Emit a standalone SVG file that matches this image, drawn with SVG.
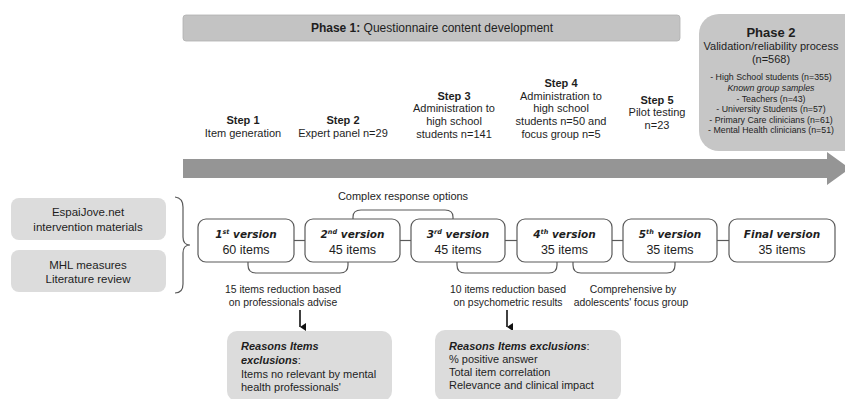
<svg xmlns="http://www.w3.org/2000/svg" width="845" height="399" viewBox="0 0 845 399">
<defs>
<style>
text{font-family:"Liberation Sans",Arial,sans-serif;fill:#1e1e1e}
.c{text-anchor:middle}
.b{font-weight:bold}
.s{font-size:11px}
.m{font-size:11px}
.u{font-size:10.4px}
.v{font-family:"DejaVu Sans",Verdana,sans-serif;font-weight:bold;font-style:italic;font-size:10.5px}
.n{font-size:12.5px}
.sup{font-size:6.5px}
.bi{font-weight:bold;font-style:italic}
.box{fill:#fff;stroke:#5a5a5a;stroke-width:1.2}
.gbox{fill:#dcdcdc;stroke:none}
.ln{fill:none;stroke:#5a5a5a;stroke-width:1.2}
.p2{font-size:8.8px}
</style>
<marker id="ah" markerWidth="8" markerHeight="8" refX="4" refY="7" orient="auto" markerUnits="userSpaceOnUse" viewBox="0 0 8 8">
<path d="M0,1 L8,1 L4,7 Z" fill="#111"/>
</marker>
</defs>
<rect width="845" height="399" fill="#fff"/>

<g id="phase1">
<rect x="183" y="15" width="497" height="26" rx="3" fill="#c3c3c3" stroke="#b0b0b0" stroke-width="0.8"/>
<text class="c" x="432" y="32" font-size="12"><tspan class="b">Phase 1:</tspan> Questionnaire  content development</text>
</g>

<g id="timeline-arrow">
<polygon points="183,159 827,159 827,152 850,168.5 827,185 827,178 183,178" fill="#959595"/>
</g>

<g id="phase2">
<rect x="699" y="14" width="170" height="137" rx="20" fill="#c6c6c6"/>
<text class="c b" x="771" y="37" font-size="13">Phase 2</text>
<text class="c" x="771" y="50" font-size="11">Validation/reliability process</text>
<text class="c" x="771" y="63" font-size="11">(n=568)</text>
<text class="c p2" x="771" y="80">- High School students (n=355)</text>
<text class="c p2" x="771" y="91" font-style="italic">Known group samples</text>
<text class="c p2" x="771" y="102">- Teachers (n=43)</text>
<text class="c p2" x="771" y="112">- University Students (n=57)</text>
<text class="c p2" x="771" y="123">- Primary Care clinicians (n=61)</text>
<text class="c p2" x="771" y="133">- Mental Health clinicians (n=51)</text>
</g>

<g id="step1">
<text class="c s b" x="243" y="124">Step 1</text>
<text class="c s" x="243" y="137">Item generation</text>
</g>
<g id="step2">
<text class="c s b" x="343" y="124">Step 2</text>
<text class="c s" x="343" y="137">Expert panel n=29</text>
</g>
<g id="step3">
<text class="c s b" x="454" y="100">Step 3</text>
<text class="c s" x="454" y="112">Administration to</text>
<text class="c s" x="454" y="125">high school</text>
<text class="c s" x="454" y="138">students n=141</text>
</g>
<g id="step4">
<text class="c s b" x="561" y="87">Step 4</text>
<text class="c s" x="561" y="100">Administration to</text>
<text class="c s" x="561" y="112">high school</text>
<text class="c s" x="561" y="125">students n=50 and</text>
<text class="c s" x="561" y="138">focus group n=5</text>
</g>
<g id="step5">
<text class="c s b" x="657" y="104">Step 5</text>
<text class="c s" x="657" y="116">Pilot testing</text>
<text class="c s" x="657" y="129">n=23</text>
</g>

<g id="src1">
<rect class="gbox" x="11" y="198" width="155" height="42" rx="8"/>
<text class="c" x="88" y="216" font-size="11.5">EspaiJove.net</text>
<text class="c" x="88" y="231" font-size="11.5">intervention materials</text>
</g>
<g id="src2">
<rect class="gbox" x="11" y="250" width="155" height="42" rx="8"/>
<text class="c" x="88" y="269" font-size="11.5">MHL measures</text>
<text class="c" x="88" y="283" font-size="11.5">Literature review</text>
</g>

<g id="connectors">
<path class="ln" d="M175,197 Q183,198 183,207 L183,237 Q183,245 190,245 Q183,245 183,253 L183,284 Q183,293 175,293"/>
<line class="ln" x1="294" y1="240.5" x2="305" y2="240.5"/>
<line class="ln" x1="400" y1="240.5" x2="411" y2="240.5"/>
<line class="ln" x1="505" y1="240.5" x2="517" y2="240.5"/>
<line class="ln" x1="612" y1="240.5" x2="623" y2="240.5"/>
<line class="ln" x1="717" y1="240.5" x2="729" y2="240.5"/>
<path class="ln" d="M353,219 L353,217 Q353,210 361,210 L445,210 Q453,210 453,217 L453,219"/>
<path class="ln" d="M248,262 L248,265 Q248,273 256,273 L340,273 Q348,273 348,265 L348,262"/>
<path class="ln" d="M457,262 L457,265 Q457,273 465,273 L549,273 Q557,273 557,265 L557,262"/>
<path class="ln" d="M573,262 L573,265 Q573,273 581,273 L667,273 Q675,273 675,265 L675,262"/>
<line x1="300" y1="310" x2="300" y2="327" stroke="#111" stroke-width="1.6" marker-end="url(#ah)"/>
<line x1="507" y1="310" x2="507" y2="327" stroke="#111" stroke-width="1.6" marker-end="url(#ah)"/>
</g>

<g id="v1">
<rect class="box" x="198" y="219" width="96" height="43" rx="8"/>
<text class="c v" x="246" y="238">1<tspan class="sup" dy="-4">st</tspan><tspan dy="4"> version</tspan></text>
<text class="c n" x="246" y="254">60 items</text>
</g>
<g id="v2">
<rect class="box" x="305" y="219" width="95" height="43" rx="8"/>
<text class="c v" x="352.5" y="238">2<tspan class="sup" dy="-4">nd</tspan><tspan dy="4"> version</tspan></text>
<text class="c n" x="352.5" y="254">45 items</text>
</g>
<g id="v3">
<rect class="box" x="411" y="219" width="94" height="43" rx="8"/>
<text class="c v" x="458" y="238">3<tspan class="sup" dy="-4">rd</tspan><tspan dy="4"> version</tspan></text>
<text class="c n" x="458" y="254">45 items</text>
</g>
<g id="v4">
<rect class="box" x="517" y="219" width="95" height="43" rx="8"/>
<text class="c v" x="564.5" y="238">4<tspan class="sup" dy="-4">th</tspan><tspan dy="4"> version</tspan></text>
<text class="c n" x="564.5" y="254">35 items</text>
</g>
<g id="v5">
<rect class="box" x="623" y="219" width="94" height="43" rx="8"/>
<text class="c v" x="670" y="238">5<tspan class="sup" dy="-4">th</tspan><tspan dy="4"> version</tspan></text>
<text class="c n" x="670" y="254">35 items</text>
</g>
<g id="vfinal">
<rect class="box" x="729" y="219" width="106" height="43" rx="8"/>
<text class="c v" x="782" y="238">Final version</text>
<text class="c n" x="782" y="254">35 items</text>
</g>

<g id="label-complex">
<text class="c m" x="403" y="200">Complex response options</text>
</g>
<g id="label-15">
<text class="c u" x="283" y="293">15 items reduction based</text>
<text class="c u" x="283" y="306">on professionals advise</text>
</g>
<g id="label-10">
<text class="c u" x="508" y="293">10 items reduction based</text>
<text class="c u" x="508" y="306">on psychometric results</text>
</g>
<g id="label-comp">
<text class="c u" x="633" y="293">Comprehensive by</text>
<text class="c u" x="631" y="306">adolescents' focus group</text>
</g>

<g id="reasons1">
<rect class="gbox" x="227" y="331" width="165" height="70" rx="10"/>
<text class="m" x="241" y="350"><tspan class="bi">Reasons Items</tspan></text>
<text class="m" x="241" y="364"><tspan class="bi">exclusions</tspan>:</text>
<text class="m" x="241" y="378">Items no relevant by mental</text>
<text class="m" x="241" y="391">health professionals'</text>
</g>
<g id="reasons2">
<rect class="gbox" x="435" y="330" width="186" height="71" rx="10"/>
<text class="m" x="449" y="350"><tspan class="bi">Reasons Items exclusions</tspan>:</text>
<text class="m" x="449" y="363">% positive answer</text>
<text class="m" x="449" y="376">Total item correlation</text>
<text class="m" x="449" y="389">Relevance and clinical impact</text>
</g>
</svg>
